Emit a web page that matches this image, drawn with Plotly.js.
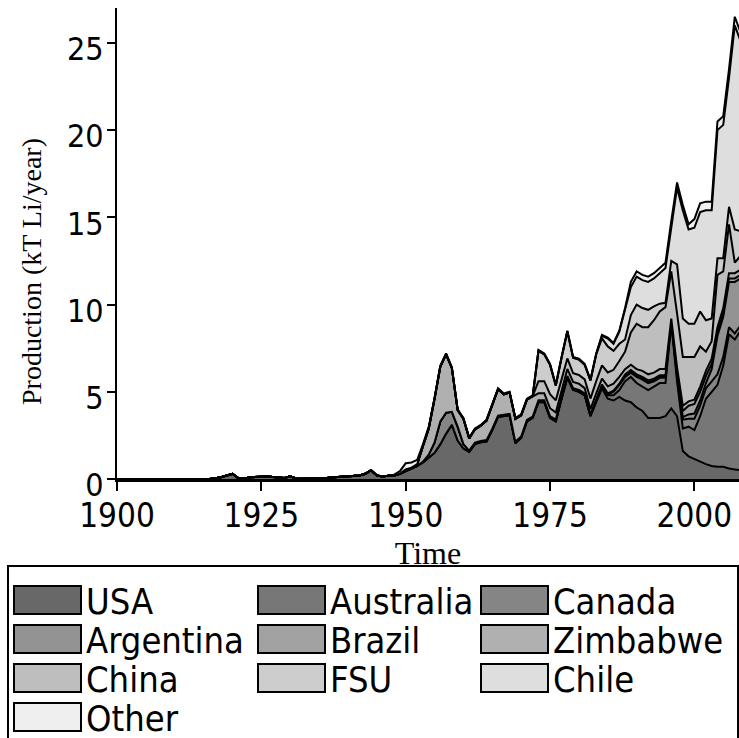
<!DOCTYPE html>
<html><head><meta charset="utf-8">
<script src="https://cdn.plot.ly/plotly-3.0.1.min.js"></script>
<style>html,body{margin:0;padding:0;background:#fff}#chart{width:739px;height:738px}</style>
</head><body><div id="chart"></div>
<script>
const years = [1900,1901,1902,1903,1904,1905,1906,1907,1908,1909,1910,1911,1912,1913,1914,1915,1916,1917,1918,1919,
1920,1921,1922,1923,1924,1925,1926,1927,1928,1929,1930,1931,1932,1933,1934,1935,1936,1937,1938,1939,
1940,1941,1942,1943,1944,1945,1946,1947,1948,1949,1950,1951,1952,1953,1954,1955,1956,1957,1958,1959,
1960,1961,1962,1963,1964,1965,1966,1967,1968,1969,1970,1971,1972,1973,1974,1975,1976,1977,1978,1979,
1980,1981,1982,1983,1984,1985,1986,1987,1988,1989,1990,1991,1992,1993,1994,1995,1996,1997,1998,1999,
2000,2001,2002,2003,2004,2005,2006,2007,2008];

const usa = [0,0,0,0,0,0,0,0,0,0,0,0,0,0,0,0,0,0.05,0.1,0.2,
0.3,0.05,0.02,0.1,0.12,0.15,0.15,0.12,0.1,0.06,0.15,0.03,0.02,0.02,0.03,0.04,0.05,0.08,0.1,0.1,
0.12,0.15,0.2,0.3,0.5,0.2,0.15,0.18,0.2,0.3,0.45,0.6,0.75,0.95,1.2,1.5,2.0,2.6,3.1,2.2,
1.75,1.55,2.0,2.1,2.15,2.8,3.55,3.6,3.65,2.05,2.35,3.3,3.5,4.4,4.4,3.5,3.3,4.6,5.8,5.1,
5.0,4.8,3.6,4.4,5.2,4.6,4.5,4.7,4.5,4.4,4.1,3.9,3.5,3.5,3.5,3.6,4.05,3.6,1.6,1.3,
1.15,1.0,0.85,0.75,0.7,0.7,0.6,0.55,0.5];
const australia = [0,0,0,0,0,0,0,0,0,0,0,0,0,0,0,0,0,0,0,0,
0,0,0,0,0,0,0,0,0,0,0,0,0,0,0,0,0,0,0,0,
0,0,0,0,0,0,0,0,0,0,0,0,0,0,0,0,0,0,0,0,
0,0,0,0,0,0,0,0,0,0,0,0,0,0,0,0,0,0,0,0,
0,0,0,0.05,0.1,0.2,0.3,0.4,1.1,1.45,1.4,1.4,1.6,1.8,2.0,1.9,4.85,2.0,1.3,1.7,
1.65,2.6,3.75,4.25,4.7,5.8,7.7,7.45,8.0];
const canada = [0,0,0,0,0,0,0,0,0,0,0,0,0,0,0,0,0,0,0,0,
0,0,0,0,0,0,0,0,0,0,0,0,0,0,0,0,0,0,0,0,
0,0,0,0,0,0,0,0,0,0,0,0,0,0.05,0.2,0.6,1.3,1.2,0.75,0.8,
0.25,0.08,0.08,0.08,0.08,0.08,0.08,0.08,0.08,0.08,0.08,0.08,0.08,0.05,0.05,0.05,0.05,0.05,0.05,0.05,
0.05,0.05,0.05,0.05,0.05,0.05,0.2,0.3,0.25,0.25,0.35,0.4,0.4,0.3,0.3,0.3,0.1,0.25,0.5,0.45,
0.65,0.6,0.6,0.6,0.6,0.5,0.4,0.35,0.3];
const argentina = [0,0,0,0,0,0,0,0,0,0,0,0,0,0,0,0,0,0,0,0,
0,0,0,0,0,0,0,0,0,0,0,0,0,0,0,0,0,0,0,0,
0,0,0,0,0,0,0,0,0,0,0,0,0,0,0,0,0,0,0,0,
0,0,0,0,0,0,0,0,0,0,0,0,0,0.03,0.03,0.03,0.03,0.03,0.03,0.03,
0.03,0.03,0.03,0.03,0.03,0.03,0.03,0.03,0.05,0.05,0.05,0.05,0.05,0.05,0.05,0.05,0.05,0.15,0.15,0.25,
0.3,0.3,0.3,0.7,2.2,2.3,2.6,2.95,2.7];
const brazil = [0,0,0,0,0,0,0,0,0,0,0,0,0,0,0,0,0,0,0,0,
0,0,0,0,0,0,0,0,0,0,0,0,0,0,0,0,0,0,0,0,
0,0,0,0,0,0,0,0,0,0,0,0,0,0,0,0,0,0,0,0,
0,0,0,0,0,0,0,0,0,0,0,0,0,0.03,0.03,0.03,0.03,0.03,0.03,0.03,
0.03,0.03,0.03,0.03,0.03,0.03,0.03,0.03,0.1,0.1,0.1,0.1,0.1,0.1,0.1,0.1,0.05,0.1,0.35,0.5,
0.55,0.5,0.4,0.3,0.2,0.2,0.2,0.2,0.2];
const zimbabwe = [0,0,0,0,0,0,0,0,0,0,0,0,0,0,0,0,0,0,0,0,
0,0,0,0,0,0,0,0,0,0,0,0,0,0,0,0,0,0,0,0,
0,0,0,0,0,0,0,0,0,0,0.1,0.05,0.1,0.9,1.5,2.5,3.15,3.35,2.5,0.95,
1.45,0.7,0.77,0.87,1.12,1.37,1.52,1.17,1.22,1.32,1.22,1.17,1.17,0.4,0.4,0.45,0.4,0.4,0.4,0.35,
0.35,0.3,0.3,0.35,0.35,0.4,0.4,0.4,0.3,0.3,0.3,0.35,0.35,0.35,0.35,0.35,0.1,0.3,0.3,0.25,
0.25,0.3,0.3,0.3,0.3,0.3,0.3,0.3,0.3];
const china = [0,0,0,0,0,0,0,0,0,0,0,0,0,0,0,0,0,0,0,0,
0,0,0,0,0,0,0,0,0,0,0,0,0,0,0,0,0,0,0,0,
0,0,0,0,0,0,0,0,0,0,0,0,0,0,0,0,0,0,0,0,
0,0,0,0,0,0,0,0,0,0,0,0,0,0.7,0.7,0.8,0.7,0.6,0.6,0.5,
0.5,0.5,0.6,0.7,0.75,0.8,0.8,0.9,1.0,1.85,2.6,2.5,2.7,3.0,3.3,3.55,2.7,3.1,2.8,2.55,
2.45,2.3,1.1,1.0,3.0,2.1,2.8,0.6,0.8];
const fsu = [0,0,0,0,0,0,0,0,0,0,0,0,0,0,0,0,0,0,0,0,
0,0,0,0,0,0,0,0,0,0,0,0,0,0,0,0,0,0,0,0,
0,0,0,0,0,0,0,0,0,0,0,0,0,0,0,0,0,0,0,0,
0,0,0,0,0,0,0,0,0,0,0,0,0,1.74,1.54,1.69,0.84,1.24,1.54,0.89,
0.89,0.84,1.04,1.54,1.55,1.49,1.09,0.99,0.7,1.0,1.1,1.1,1.0,0.8,0.45,0.25,0.6,2.8,2.2,1.9,
1.9,2.0,1.8,1.3,0.95,0.75,1.0,1.9,1.4];
const chile = [0,0,0,0,0,0,0,0,0,0,0,0,0,0,0,0,0,0,0,0,
0,0,0,0,0,0,0,0,0,0,0,0,0,0,0,0,0,0,0,0,
0,0,0,0,0,0,0,0,0,0,0,0,0,0,0,0,0,0,0,0,
0,0,0,0,0,0,0,0,0,0,0,0,0,0,0,0,0,0,0,0,
0,0,0,0,0.15,0.45,0.4,0.7,1.7,1.6,1.6,1.6,1.6,1.6,1.75,2.0,1.9,4.4,6.2,5.4,
5.5,5.7,6.3,6.2,7.35,7.65,7.4,11.7,10.9];
const other = [0,0,0,0,0,0,0,0,0,0,0,0,0,0,0,0,0,0,0,0,
0,0,0,0,0,0,0,0,0,0,0,0,0,0,0,0,0,0,0,0,
0,0,0,0,0,0,0,0,0.05,0.15,0.35,0.3,0.25,0.1,0.1,0.05,0.05,0.05,0.05,0.05,
0.05,0.05,0.05,0.05,0.05,0.05,0.05,0.05,0.05,0.05,0.05,0.05,0.05,0.05,0.05,0.05,0.05,0.05,0.05,0.05,
0.05,0.05,0.05,0.05,0.05,0.05,0.05,0.05,0.1,0.3,0.3,0.3,0.3,0.3,0.3,0.3,0.4,0.3,0.3,0.3,
0.5,0.5,0.5,0.5,0.5,0.5,0.5,0.5,0.5];

const seriesNames = ['USA','Australia','Canada','Argentina','Brazil','Zimbabwe','China','FSU','Chile','Other'];
const seriesValues = [usa, australia, canada, argentina, brazil, zimbabwe, china, fsu, chile, other];
const seriesColors = ['#686868','#777777','#858585','#939393','#a2a2a2','#b0b0b0','#bebebe','#cdcdcd','#dedede','#efefef'];
const xTicks = [1900,1925,1950,1975,2000];
const yTicks = [0,5,10,15,20,25];

const W = 739, H = 738;
const L = 117, R = 0, T = 8, B = 259;
const pw = W - L - R, ph = H - T - B;
const px2x = p => (p - L) / pw;
const py2y = p => (H - B - p) / ph;
const sansC = 'DejaVu Sans Condensed, DejaVu Sans';
const serif = 'Liberation Serif, DejaVu Serif';

const traces = seriesNames.map((n, i) => ({
  type: 'scatter', mode: 'lines', name: n, x: years, y: seriesValues[i],
  stackgroup: 'one', line: {color: '#000', width: 2, shape: 'linear'},
  fillcolor: seriesColors[i], showlegend: false, hoverinfo: 'skip'
}));

const shapes = [];
const annotations = [];
shapes.push({type:'rect', xref:'paper', yref:'paper', x0:px2x(8), x1:px2x(738), y0:py2y(566), y1:py2y(742),
  line:{color:'#000', width:2}, fillcolor:'rgba(0,0,0,0)', layer:'above'});
const colX = [14, 258, 481];
const rowY = [600, 639, 678, 717];
seriesNames.forEach((n, i) => {
  const c = i % 3, r = Math.floor(i / 3);
  const sx = colX[c], cy = rowY[r];
  shapes.push({type:'rect', xref:'paper', yref:'paper', x0:px2x(sx), x1:px2x(sx+67), y0:py2y(cy-14), y1:py2y(cy+14),
    line:{color:'#000', width:2}, fillcolor:seriesColors[i], layer:'above'});
  annotations.push({xref:'paper', yref:'paper', x:px2x(sx+70), y:py2y(cy+1), xanchor:'left', yanchor:'middle',
    text:n, showarrow:false, font:{family:sansC, size:36, color:'#000'}});
});
annotations.push({xref:'paper', yref:'paper', x:px2x(31), y:py2y(272), xanchor:'center', yanchor:'middle',
  textangle:-90, text:'Production (kT Li/year)', showarrow:false, font:{family:serif, size:28, color:'#000'}});

const layout = {
  width: W, height: H, margin: {l: L, r: R, t: T, b: B, pad: 0},
  paper_bgcolor: '#fff', plot_bgcolor: '#fff', showlegend: false,
  xaxis: {range: [1900, 2007.73], tickvals: xTicks, ticktext: xTicks.map(String), ticks: 'outside', ticklen: 9, tickwidth: 2,
    tickcolor: '#000', showline: true, linewidth: 3, linecolor: '#000', showgrid: false, zeroline: false,
    ticklabelstandoff: -4,
    tickfont: {family: sansC, size: 33, color: '#000'},
    title: {text: 'Time', font: {family: serif, size: 32, color: '#000'}, standoff: 1}},
  yaxis: {range: [0, 27], tickvals: yTicks, ticktext: yTicks.map(String), ticks: 'outside', ticklen: 8, tickwidth: 2,
    tickcolor: '#000', showline: true, linewidth: 2, linecolor: '#000', showgrid: false, zeroline: false,
    ticklabelstandoff: -3, ticklabelshift: 6,
    tickfont: {family: sansC, size: 32, color: '#000'}},
  shapes: shapes, annotations: annotations
};
Plotly.newPlot('chart', traces, layout, {staticPlot: true, displayModeBar: false});
</script></body></html>
